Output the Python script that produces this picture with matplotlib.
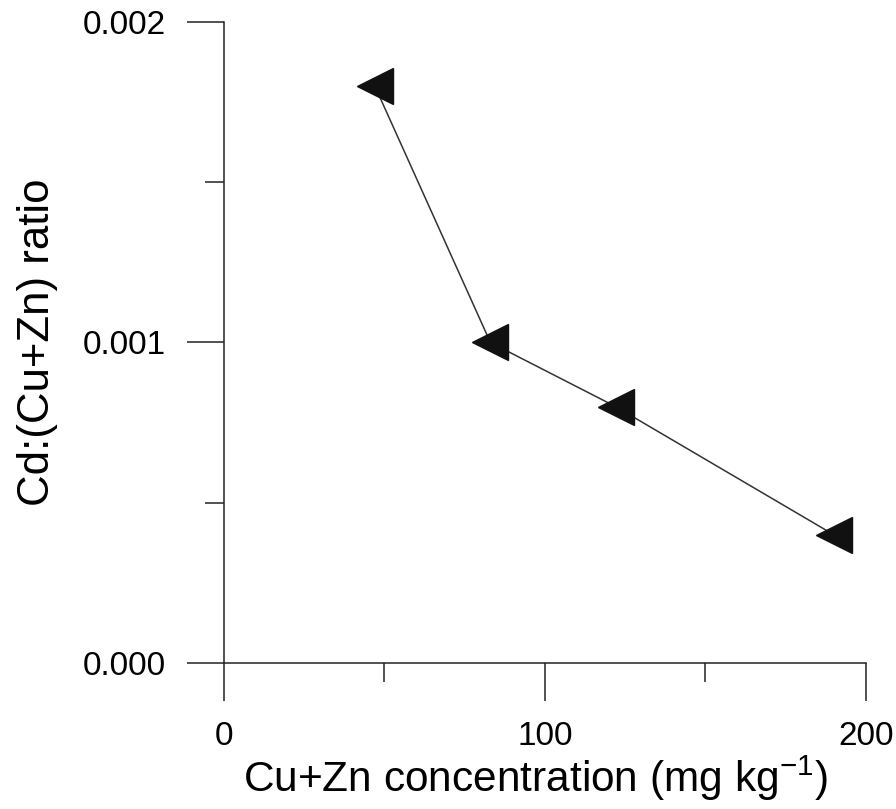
import matplotlib
matplotlib.use("Agg")
import matplotlib.pyplot as plt
from matplotlib.ticker import MultipleLocator, FixedFormatter, FixedLocator

# Data
cu_zn = [47, 83, 122, 190]                     # Cu+Zn concentration (mg kg-1)
cd_ratio = [0.0018, 0.0010, 0.0008, 0.0004]    # Cd:(Cu+Zn) ratio

x_ticks = [0, 100, 200]
y_ticks = [0.0, 0.001, 0.002]
y_tick_labels = ['0.000', '0.001', '0.002']

plt.rcParams['font.family'] = ['Liberation Sans', 'DejaVu Sans']
plt.rcParams['mathtext.fontset'] = 'custom'
plt.rcParams['mathtext.rm'] = 'Liberation Sans'

fig = plt.figure(figsize=(8.96, 8.09), dpi=100)
ax = fig.add_axes([0.25, 0.1805, 0.7165, 0.7923])

ax.plot(cu_zn, cd_ratio, color='#333333', lw=1.1, zorder=2)
ax.plot(cu_zn, cd_ratio, ls='none', marker='<', ms=26, color='#111111', zorder=3)

ax.set_xlim(0, 200)
ax.set_ylim(0, 0.002)

for s in ['top', 'right']:
   ax.spines[s].set_visible(False)
for s in ['left', 'bottom']:
   ax.spines[s].set_linewidth(1.1)
   ax.spines[s].set_color('#222222')

ax.xaxis.set_major_locator(FixedLocator(x_ticks))
ax.xaxis.set_minor_locator(MultipleLocator(50))
ax.yaxis.set_major_locator(FixedLocator(y_ticks))
ax.yaxis.set_major_formatter(FixedFormatter(y_tick_labels))
ax.yaxis.set_minor_locator(MultipleLocator(0.0005))

ax.tick_params(which='major', direction='out', length=27, width=1.1, color='#222222',
               labelsize=24, pad=15)
ax.tick_params(which='minor', direction='out', length=14, width=1.1, color='#222222')
ax.tick_params(axis='y', which='major', pad=15)

ax.set_xlabel(r'Cu+Zn concentration (mg kg$^{\mathregular{-1}}$)', fontsize=30.5)
ax.xaxis.set_label_coords(0.485, -0.142)
ax.set_ylabel('Cd:(Cu+Zn) ratio', fontsize=31.5, labelpad=18)

fig.savefig('out.png', dpi=100)
